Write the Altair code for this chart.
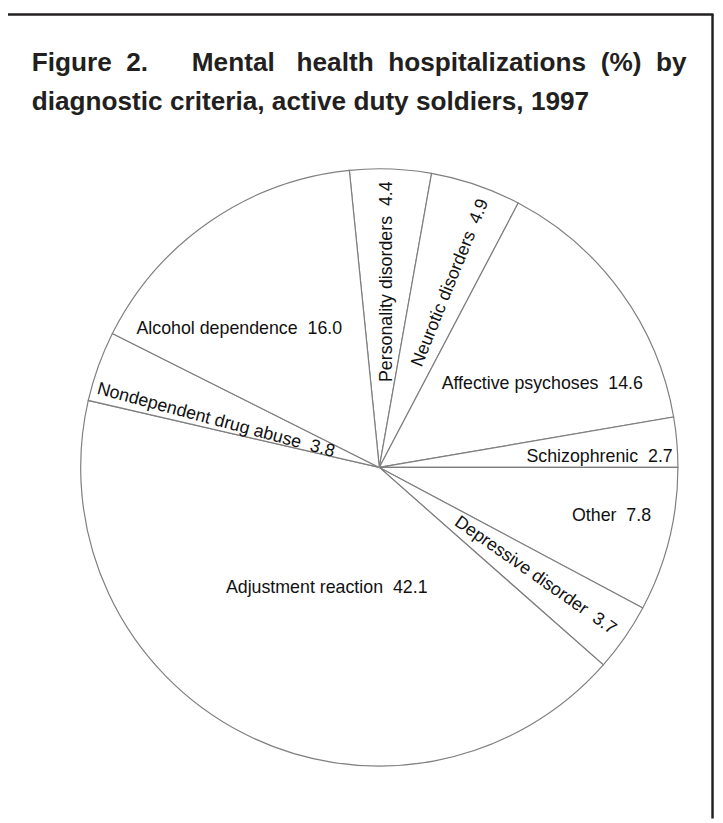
import math
import altair as alt
import pandas as pd

# ---- data ----
categories = [
    "Personality disorders",
    "Neurotic disorders",
    "Affective psychoses",
    "Schizophrenic",
    "Other",
    "Depressive disorder",
    "Adjustment reaction",
    "Nondependent drug abuse",
    "Alcohol dependence",
]
values = [4.4, 4.9, 14.6, 2.7, 7.8, 3.7, 42.1, 3.8, 16.0]

title_line1_words = ["Figure", "2.", "Mental", "health", "hospitalizations", "(%)", "by"]
title_line2 = "diagnostic criteria, active duty soldiers, 1997"

# ---- layout / style ----
W, H = 715, 815
CX, CY = 375.5, 460.0
R = 302
FONT = "Liberation Sans"
START = math.radians(-5.76)
theta_scale = alt.Scale(domain=[0, 100], range=[START, START + 2 * math.pi])

# label layout: (theta shift in % from slice middle, radius px, rotation deg)
LABEL_LAYOUT = {
    "Personality disorders": (0.1, 188, 270),
    "Neurotic disorders": (0.6, 200, 292),
    "Affective psychoses": (2.5, 185, 0),
    "Schizophrenic": (0.6, 223, 0),
    "Other": (-0.6, 240, 0),
    "Depressive disorder": (0.0, 192, 35),
    "Adjustment reaction": (-1.0, 133, 0),
    "Nondependent drug abuse": (-1.05, 172, 15),
    "Alcohol dependence": (-3.0, 199, 0),
}

df = pd.DataFrame({
    "category": categories,
    "value": values,
    "order": list(range(len(categories))),
})
df["label"] = [f"{c}\u00a0 {v:.1f}" for c, v in zip(categories, values)]

arcs = alt.Chart(df).mark_arc(
    radius=R, fill="white", stroke="#7f7f7f", strokeWidth=1.2
).encode(
    theta=alt.Theta("value:Q", stack=True, scale=theta_scale),
    order=alt.Order("order:Q"),
    x=alt.value(CX),
    y=alt.value(CY),
)

base = alt.Chart(df).transform_window(
    cum="sum(value)", sort=[alt.SortField("order")], frame=[None, 0]
).transform_calculate(mid="datum.cum - datum.value / 2")

label_layers = []
for cat, (shift, rad, rot) in LABEL_LAYOUT.items():
    lyr = base.transform_filter(alt.datum.category == cat).transform_calculate(
        pos=f"datum.mid + ({shift})"
    ).mark_text(
        radius=rad, angle=rot, font=FONT, fontSize=18, align="center",
        baseline="middle", color="#111111",
    ).encode(
        theta=alt.Theta("pos:Q", scale=theta_scale),
        text="label:N",
        x=alt.value(CX),
        y=alt.value(CY),
    )
    label_layers.append(lyr)

one = alt.Data(values=[{}])
NB = "\u00a0"
gaps = [2, 6, 3, 2, 2, 2]
line1 = title_line1_words[0]
for g, w in zip(gaps, title_line1_words[1:]):
    line1 += NB * g + w

TITLE_SIZE = 26.5
title1 = alt.Chart(one).mark_text(
    text=line1, font=FONT, fontSize=TITLE_SIZE, fontWeight="bold", align="left",
    baseline="alphabetic", color="#231f20",
).encode(x=alt.value(24), y=alt.value(59))

title2 = alt.Chart(one).mark_text(
    text=title_line2, font=FONT, fontSize=TITLE_SIZE, fontWeight="bold", align="left",
    baseline="alphabetic", color="#231f20",
).encode(x=alt.value(24), y=alt.value(99))

frame_top = alt.Chart(one).mark_rule(color="#231f20", strokeWidth=2.5).encode(
    x=alt.value(0), x2=alt.value(713.5), y=alt.value(2)
)
frame_right = alt.Chart(one).mark_rule(color="#231f20", strokeWidth=2.5).encode(
    x=alt.value(712.5), y=alt.value(2), y2=alt.value(815)
)

chart = alt.layer(
    frame_top, frame_right, arcs, *label_layers, title1, title2
).properties(
    width=W, height=H, autosize="none", padding=0
).configure_view(stroke=None)

chart.save("out.html", embed_options={"renderer": "svg", "actions": False})
